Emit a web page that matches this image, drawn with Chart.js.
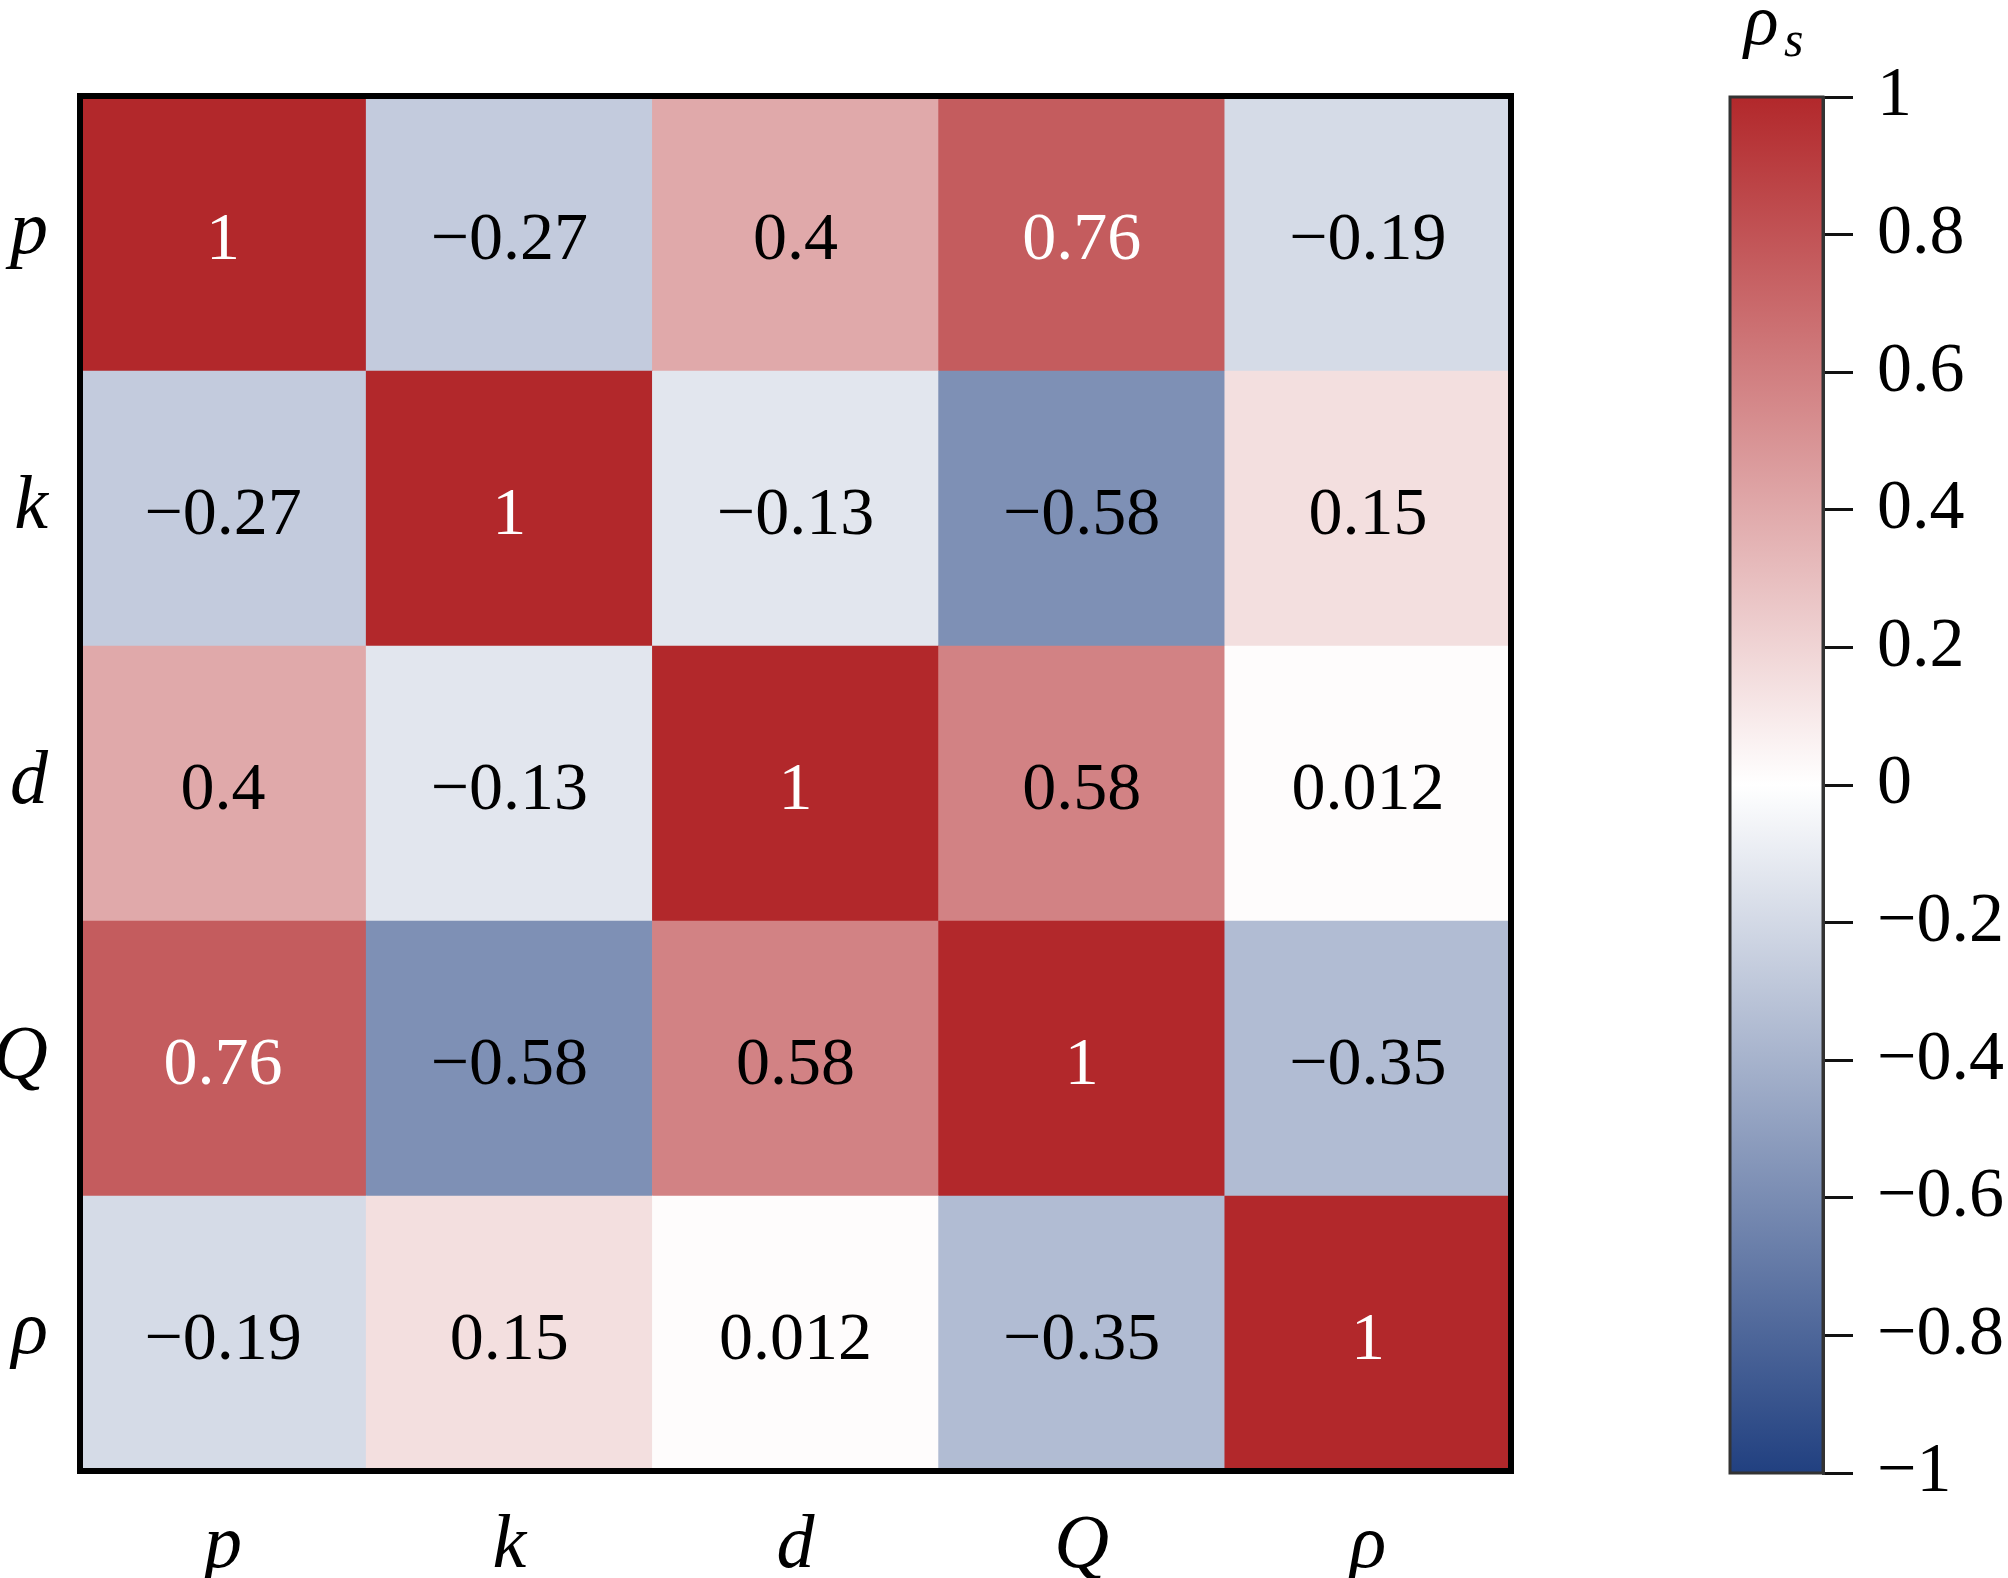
<!DOCTYPE html>
<html>
<head>
<meta charset="utf-8">
<script src="https://cdn.jsdelivr.net/npm/chart.js@4.4.1/dist/chart.umd.min.js"></script>
<style>
  html, body { margin: 0; padding: 0; background: #fff; }
  #wrap { position: relative; width: 2008px; height: 1578px; overflow: hidden; }
  #heatBox { position: absolute; left: 0; top: 0; width: 1540px; height: 1578px; }
  #barBox { position: absolute; left: 1700px; top: 0; width: 308px; height: 1578px; }
</style>
</head>
<body>
<div id="wrap">
  <div id="heatBox"><canvas id="heat"></canvas></div>
  <div id="barBox"><canvas id="cbar"></canvas></div>
</div>
<script>
// Variáveis (linhas de cima para baixo, colunas da esquerda para a direita)
const variables = ['p', 'k', 'd', 'Q', 'ρ'];

// Coeficientes de Spearman, uma linha por variável
const rowP = [1, -0.27, 0.4, 0.76, -0.19];
const rowK = [-0.27, 1, -0.13, -0.58, 0.15];
const rowD = [0.4, -0.13, 1, 0.58, 0.012];
const rowQ = [0.76, -0.58, 0.58, 1, -0.35];
const rowRho = [-0.19, 0.15, 0.012, -0.35, 1];
const rows = [rowP, rowK, rowD, rowQ, rowRho];

// Marcas da barra de cores
const colorbarTicks = [-1, -0.8, -0.6, -0.4, -0.2, 0, 0.2, 0.4, 0.6, 0.8, 1];

const RED = [178, 40, 43];
const WHITE = [255, 255, 255];
const BLUE = [33, 64, 128];
const SERIF = "'Liberation Serif', 'DejaVu Serif', serif";

function colorFor(v) {
  const end = v >= 0 ? RED : BLUE;
  const t = Math.min(Math.abs(v), 1);
  const c = WHITE.map((w, i) => Math.round(w + (end[i] - w) * t));
  return 'rgb(' + c.join(',') + ')';
}

function fmt(v) {
  return String(v).replace('-', '\u2212');
}

// Cada linha vira um dataset empilhado (de baixo para cima)
const datasets = rows.slice().reverse().map((row, i) => ({
  label: variables[variables.length - 1 - i],
  data: row.map(() => 1),
  values: row,
  backgroundColor: row.map(colorFor),
  borderWidth: 0,
  barPercentage: 1,
  categoryPercentage: 1
}));

const cellLabels = {
  id: 'cellLabels',
  afterDatasetsDraw(chart) {
    const ctx = chart.ctx;
    ctx.save();
    ctx.font = '68px ' + SERIF;
    ctx.textAlign = 'center';
    ctx.textBaseline = 'middle';
    chart.data.datasets.forEach((ds, di) => {
      chart.getDatasetMeta(di).data.forEach((bar, j) => {
        const v = ds.values[j];
        ctx.fillStyle = Math.abs(v) >= 0.7 ? '#ffffff' : '#000000';
        ctx.fillText(fmt(v), bar.x, (bar.y + bar.base) / 2 + 8);
      });
    });
    ctx.restore();
  },
  afterDraw(chart) {
    const a = chart.chartArea;
    const ctx = chart.ctx;
    ctx.save();
    ctx.strokeStyle = '#000';
    ctx.lineWidth = 6;
    ctx.strokeRect(a.left, a.top, a.right - a.left, a.bottom - a.top);
    ctx.restore();
  }
};

new Chart(document.getElementById('heat'), {
  type: 'bar',
  data: { labels: variables, datasets: datasets },
  options: {
    responsive: true,
    maintainAspectRatio: false,
    animation: false,
    layout: { padding: { top: 96, right: 29, left: 0, bottom: 0 } },
    plugins: { legend: { display: false }, tooltip: { enabled: false } },
    scales: {
      x: {
        stacked: true,
        grid: { display: false },
        border: { display: false },
        ticks: { color: '#000', padding: 22, font: { family: SERIF, size: 76, style: 'italic' } },
        afterFit(scale) { scale.height = 107; }
      },
      y: {
        stacked: true,
        min: 0,
        max: variables.length,
        grid: { display: false },
        border: { display: false },
        afterBuildTicks(scale) {
          scale.ticks = variables.map((_, i) => ({ value: i + 0.5 }));
        },
        ticks: {
          color: '#000',
          padding: 24,
          font: { family: SERIF, size: 76, style: 'italic' },
          callback: (v) => variables[variables.length - 1 - Math.floor(v)]
        },
        afterFit(scale) { scale.width = 80; }
      }
    }
  },
  plugins: [cellLabels]
});

// Barra de cores
const colorbarDeco = {
  id: 'colorbarDeco',
  afterDraw(chart) {
    const a = chart.chartArea;
    const ctx = chart.ctx;
    ctx.save();
    ctx.strokeStyle = '#333';
    ctx.lineWidth = 3;
    ctx.strokeRect(a.left, a.top, a.right - a.left, a.bottom - a.top);
    ctx.fillStyle = '#000';
    ctx.textBaseline = 'alphabetic';
    ctx.textAlign = 'left';
    ctx.font = 'italic 72px ' + SERIF;
    ctx.fillText('ρ', a.left + 14, 44);
    ctx.font = 'italic 50px ' + SERIF;
    ctx.fillText('s', a.left + 54, 56);
    ctx.restore();
  }
};

new Chart(document.getElementById('cbar'), {
  type: 'bar',
  data: {
    labels: ['ρs'],
    datasets: [{
      data: [[colorbarTicks[0], colorbarTicks[colorbarTicks.length - 1]]],
      borderWidth: 0,
      barPercentage: 1,
      categoryPercentage: 1,
      backgroundColor(c) {
        const a = c.chart.chartArea;
        if (!a) return colorFor(0);
        const g = c.chart.ctx.createLinearGradient(0, a.bottom, 0, a.top);
        g.addColorStop(0, colorFor(-1));
        g.addColorStop(0.5, colorFor(0));
        g.addColorStop(1, colorFor(1));
        return g;
      }
    }]
  },
  options: {
    responsive: true,
    maintainAspectRatio: false,
    animation: false,
    layout: { padding: { top: 97, right: 0, left: 30, bottom: 105 } },
    plugins: { legend: { display: false }, tooltip: { enabled: false } },
    scales: {
      x: { display: false },
      y: {
        position: 'right',
        min: -1,
        max: 1,
        afterBuildTicks(scale) {
          scale.ticks = colorbarTicks.map(v => ({ value: v }));
        },
        grid: { drawOnChartArea: false, drawTicks: true, tickLength: 30, color: '#111', lineWidth: 3 },
        border: { display: true, color: '#333', width: 3 },
        ticks: {
          color: '#000',
          padding: 24,
          font: { family: SERIF, size: 70 },
          callback: (v) => fmt(Math.round(v * 10) / 10)
        },
        afterFit(scale) { scale.width = 185; }
      }
    }
  },
  plugins: [colorbarDeco]
});
</script>
</body>
</html>
